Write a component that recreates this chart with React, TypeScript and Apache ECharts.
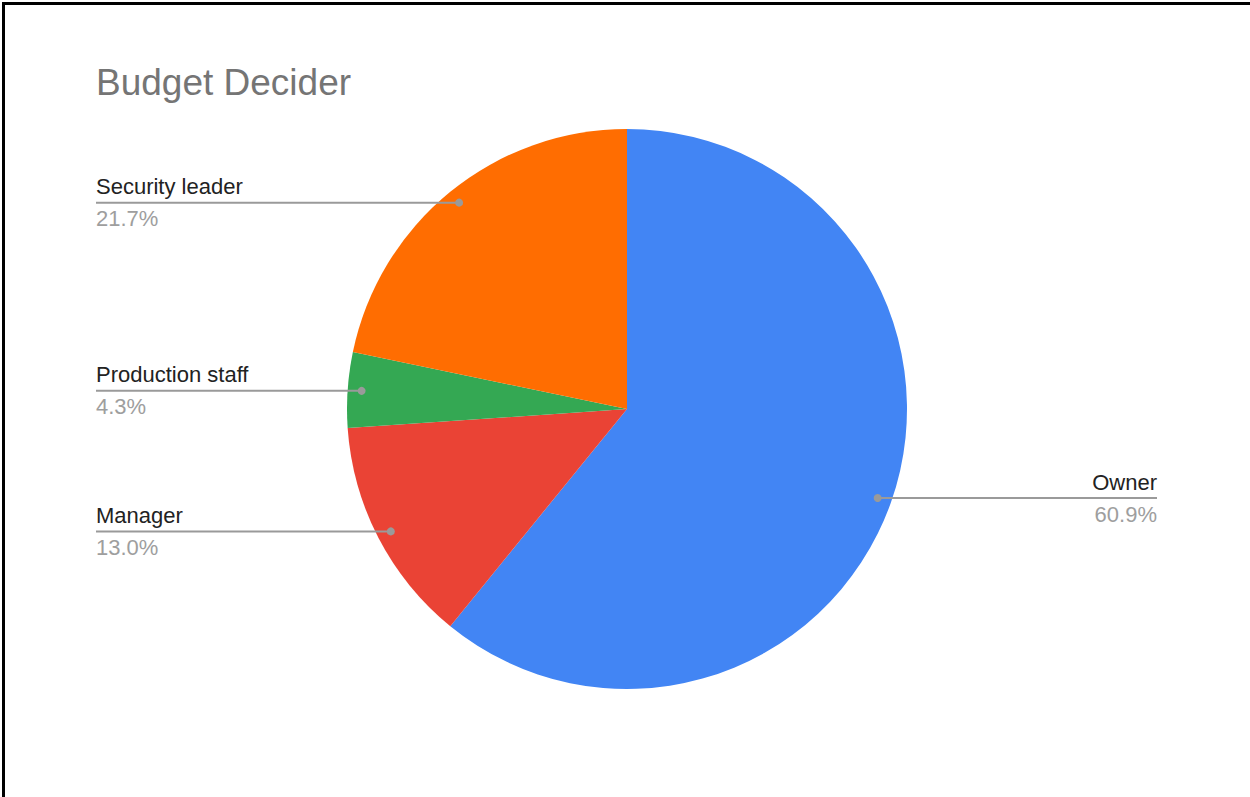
import React, { useEffect, useRef } from "react";
import * as echarts from "echarts";

const TITLE = "Budget Decider";
const CATEGORIES = ["Owner", "Manager", "Production staff", "Security leader"];
const VALUES = [14, 3, 1, 5];
const COLORS = ["#4285f4", "#ea4335", "#34a853", "#ff6d01"];

const W = 1250;
const H = 797;
const CX = 627;
const CY = 409;
const R = 280;
const DOT_R = 266;
const LEFT_EDGE = 96;
const RIGHT_EDGE = 1157;
const FONT = "Arial, 'Liberation Sans', sans-serif";
const LINE_COLOR = "#9a9a9a";

function anchors() {
  const total = VALUES.reduce((a, b) => a + b, 0);
  let cum = 0;
  return VALUES.map((v) => {
    const mid = (cum + v / 2) / total;
    cum += v;
    const a = mid * Math.PI * 2;
    return [CX + DOT_R * Math.sin(a), CY - DOT_R * Math.cos(a)];
  });
}

export default function App() {
  const ref = useRef<HTMLDivElement>(null);
  useEffect(() => {
    if (!ref.current) return;
    const chart = echarts.init(ref.current, null, { renderer: "svg" });
    const total = VALUES.reduce((a, b) => a + b, 0);
    const pts = anchors();
    const option: any = {
      animation: false,
      backgroundColor: "#ffffff",
      title: {
        text: TITLE,
        left: 96,
        top: 64,
        padding: 0,
        textStyle: { fontFamily: FONT, fontSize: 37, fontWeight: "normal", color: "#757575" },
      },
      graphic: [
        { type: "rect", shape: { x: 2, y: 2, width: 3, height: H }, style: { fill: "#000" }, z: 200 },
        { type: "rect", shape: { x: 2, y: 2, width: W, height: 3 }, style: { fill: "#000" }, z: 200 },
        ...pts.map((p) => {
          const isLeft = p[0] < CX;
          return {
            type: "line",
            shape: { x1: p[0], y1: p[1], x2: isLeft ? LEFT_EDGE : RIGHT_EDGE, y2: p[1] },
            style: { stroke: LINE_COLOR, lineWidth: 2 },
            z: 100,
          };
        }),
        ...pts.map((p) => ({
          type: "circle",
          shape: { cx: p[0], cy: p[1], r: 4 },
          style: { fill: LINE_COLOR },
          z: 101,
        })),
      ],
      series: [
        {
          type: "pie",
          center: [CX, CY],
          radius: R,
          startAngle: 90,
          clockwise: true,
          avoidLabelOverlap: false,
          data: CATEGORIES.map((c, i) => ({
            name: c,
            value: VALUES[i],
            itemStyle: { color: COLORS[i] },
          })),
          label: {
            show: true,
            position: "outside",
            fontFamily: FONT,
            formatter: (p: any) =>
              `{n|${p.name}}\n{p|${((p.value / total) * 100).toFixed(1)}%}`,
            rich: {
              n: { fontFamily: FONT, fontSize: 22, color: "#222222", lineHeight: 32 },
              p: { fontFamily: FONT, fontSize: 22, color: "#9e9e9e", lineHeight: 32 },
            },
          },
          labelLine: { show: false },
          labelLayout: (params: any) => {
            const p = pts[params.dataIndex];
            const isLeft = p[0] < CX;
            return {
              x: isLeft ? LEFT_EDGE : RIGHT_EDGE,
              y: p[1],
              align: isLeft ? "left" : "right",
              verticalAlign: "middle",
            };
          },
          emphasis: { disabled: true },
        },
      ],
    };
    chart.setOption(option);
    return () => chart.dispose();
  }, []);
  return (
    <div
      ref={ref}
      style={{ position: "fixed", left: 0, top: 0, width: W, height: H, background: "#fff" }}
    />
  );
}
